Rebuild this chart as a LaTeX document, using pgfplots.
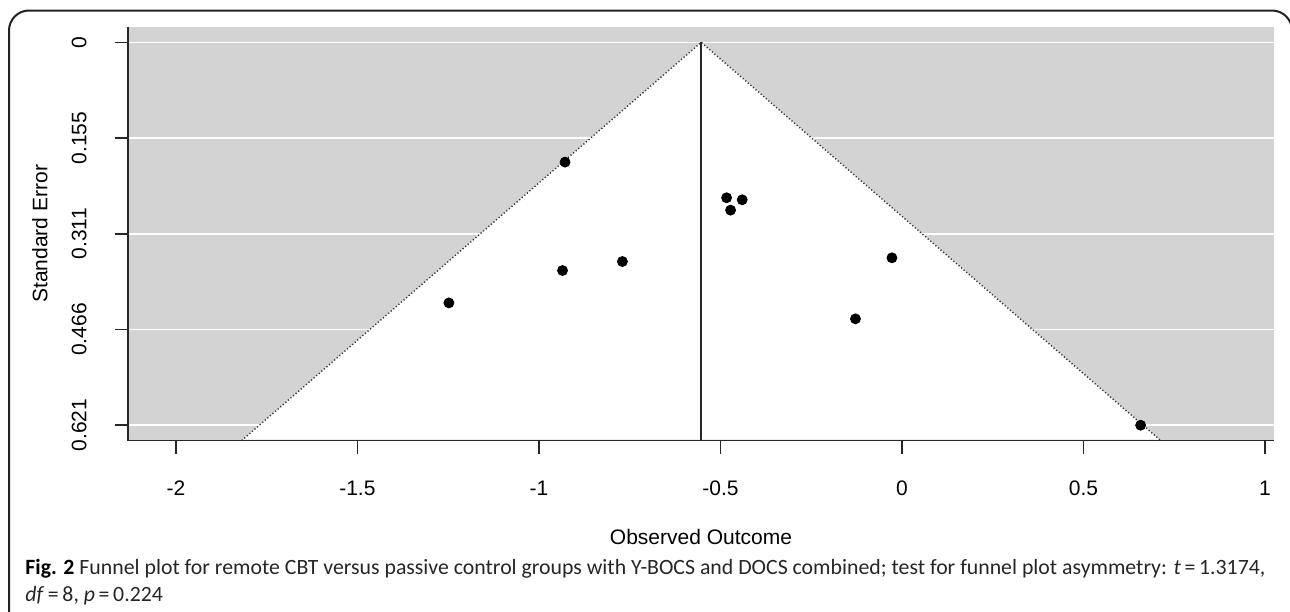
\documentclass[border=0pt]{standalone}
\usepackage{pgfplots}
\pgfplotsset{compat=1.18}
\usepackage{fontspec}
\setmainfont{Liberation Sans}
\newfontfamily\capfont{Carlito}
\definecolor{lgray}{HTML}{D3D3D3}
\definecolor{frame}{HTML}{222222}
\begin{document}
\begin{tikzpicture}[x=0.5pt,y=-0.5pt]
\useasboundingbox (0,0) rectangle (1290,611);
\coordinate (O) at (128,440.5);
\begin{axis}[
  at={(O)}, anchor=south west,
  scale only axis, width=573pt, height=206.75pt,
  xmin=-2.132, xmax=1.025, ymin=-0.0248, ymax=0.6458,
  y dir=reverse,
  axis x line*=bottom, axis y line*=left,
  axis line style={line width=0.8pt, black!85, -},
  axis background/.style={fill=lgray},
  tick align=outside, major tick length=6.5pt,
  tick style={line width=0.8pt, black!85},
  xtick={-2,-1.5,-1,-0.5,0,0.5,1},
  xticklabels={-2,-1.5,-1,-0.5,0,0.5,1},
  ytick={0,0.15525,0.3105,0.46575,0.621},
  yticklabels={0,0.155,0.311,0.466,0.621},
  ymajorgrids, major grid style={white, line width=0.75pt},
  ticklabel style={font=\fontsize{10.5}{12}\selectfont},
  yticklabel style={xshift=-14pt, rotate=90, anchor=south, inner sep=0pt},
  xticklabel style={yshift=-13.5pt, anchor=north, inner sep=0pt},
  every axis x label/.style={at={(axis description cs:0.5,-0.2334)}, anchor=center, font=\fontsize{10.5}{12}\selectfont},
  every axis y label/.style={at={(axis description cs:-0.0768,0.5)}, anchor=center, rotate=90, font=\fontsize{10.5}{12}\selectfont},
  xlabel={Observed Outcome},
  ylabel={Standard Error},
]
% white funnel region
\addplot[fill=white, draw=none] coordinates {(-0.553,0) (-1.8155,0.6443) (0.7095,0.6443)} -- cycle;
% funnel edges
\addplot[black!80, line width=0.7pt, dash pattern=on 0.6pt off 1.1pt] coordinates {(-1.8188,0.6458) (-0.553,0) (0.7128,0.6458)};
% centre line
\addplot[black!85, line width=0.7pt] coordinates {(-0.553,0) (-0.553,0.6458)};
% studies
\addplot[only marks, mark=*, mark size=2.5pt, black] coordinates {
  (-0.928,0.1943) (-0.935,0.3701) (-0.770,0.3555) (-1.248,0.4226)
  (-0.483,0.2521) (-0.472,0.2722) (-0.440,0.2554)
  (-0.0275,0.3495) (-0.128,0.4485) (0.6575,0.621)
};
\end{axis}
\node[anchor=base west, inner sep=0pt, font=\capfont\fontsize{10.9}{13}\selectfont, text=black!85] at (25,574)
  {\textbf{\color{black}Fig. 2} Funnel plot for remote CBT versus passive control groups with Y-BOCS and DOCS combined; test for funnel plot asymmetry: \textit{t}\,=\,1.3174,};
\node[anchor=base west, inner sep=0pt, font=\capfont\fontsize{10.9}{13}\selectfont, text=black!85] at (25,601.7)
  {\textit{df}\,=\,8, \textit{p}\,=\,0.224};
\draw[frame, line width=1pt, rounded corners=10pt] (9,620) -- (9,10.5) -- (1292,10.5) -- (1292,620);
\end{tikzpicture}
\end{document}
